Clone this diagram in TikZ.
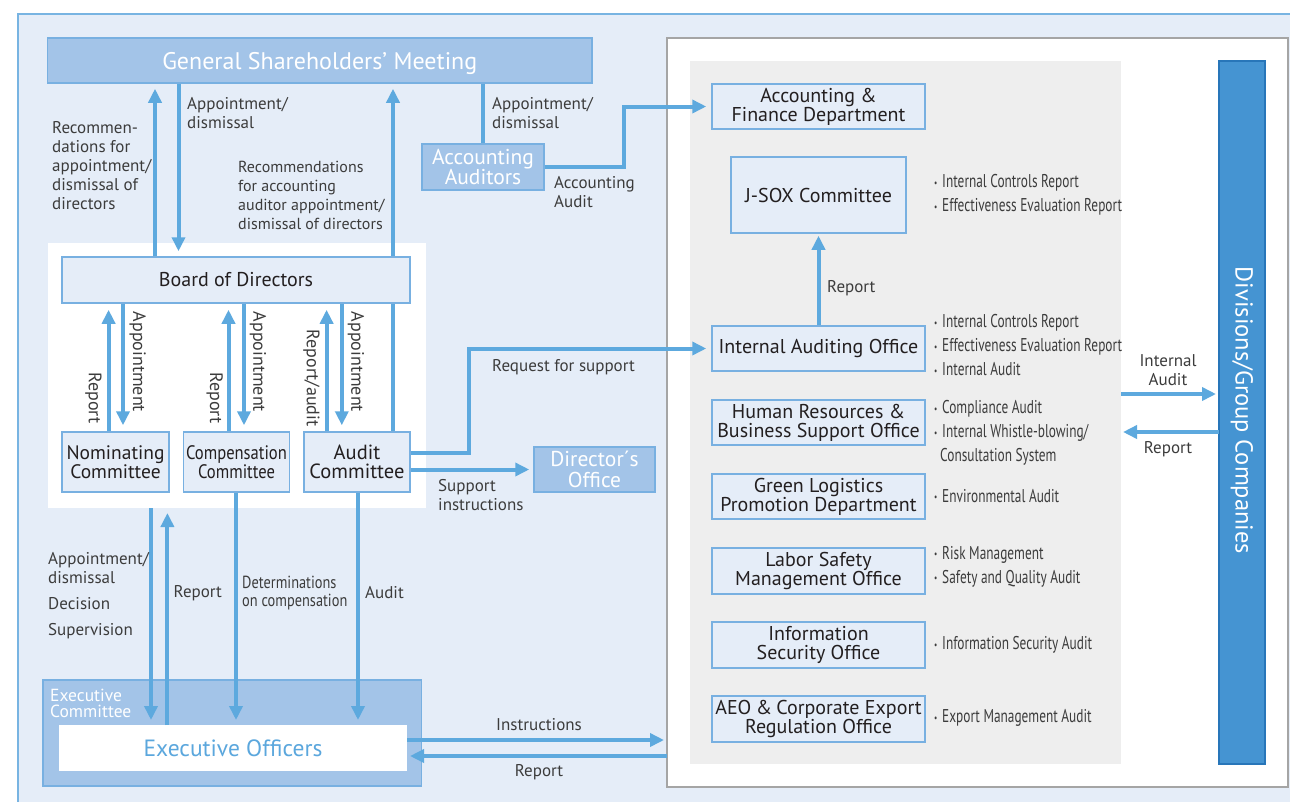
\documentclass[tikz,border=0pt]{standalone}
\usepackage{fontspec}
\setmainfont{PT Sans}
\newfontfamily\condf[FakeStretch=0.82]{PT Sans}
\newfontfamily\bulf[FakeStretch=0.72]{PT Sans}
\newfontfamily\compf[FakeStretch=0.85]{PT Sans}
\usetikzlibrary{arrows.meta,calc}
\definecolor{panelbg}{RGB}{229,237,248}
\definecolor{panelborder}{RGB}{120,180,226}
\definecolor{midblue}{RGB}{163,196,232}
\definecolor{boxborder}{RGB}{120,176,225}
\definecolor{arrblue}{RGB}{93,169,222}
\definecolor{grayp}{RGB}{238,238,238}
\definecolor{grayborder}{RGB}{165,165,165}
\definecolor{divblue}{RGB}{69,148,210}
\definecolor{divborder}{RGB}{40,118,185}
\definecolor{txt}{RGB}{35,31,32}
\definecolor{lbltxt}{RGB}{60,60,60}
\definecolor{eotxt}{RGB}{91,167,221}
\pgfdeclarelayer{back}
\pgfdeclarelayer{mid}
\pgfsetlayers{back,mid,main}
\newcommand{\bul}{\makebox[8pt][l]{\fontsize{10}{10}\selectfont\raisebox{1.5pt}{•}}}
\begin{document}
\begin{tikzpicture}[x=1pt,y=-1pt,
  arr/.style={draw=arrblue, line width=4pt, -{Triangle[length=14pt,width=13pt]}},
  ln/.style={draw=arrblue, line width=4pt},
  box/.style={draw=boxborder, line width=1.5pt, fill=panelbg, text=txt, align=center, inner sep=0pt,
    font=\fontsize{20}{19}\selectfont},
  midbox/.style={draw=boxborder, line width=1.5pt, fill=midblue, text=white, align=center, inner sep=0pt,
    font=\fontsize{21.5}{20.5}\selectfont},
  lbl/.style={text=lbltxt, align=left, inner sep=0pt, font=\fontsize{17}{19}\selectfont},
  rlbl/.style={lbl, rotate=-90, font=\fontsize{18}{19}\selectfont},
  bl/.style={text=lbltxt, align=left, inner sep=0pt, font=\bulf\fontsize{18.5}{24}\selectfont, anchor=west},
  panel/.style={inner sep=0pt, outer sep=0pt}]
\useasboundingbox (0,0) rectangle (1290,801);

\begin{pgfonlayer}{back}
\fill[panelbg] (18,14) rectangle (1300,810);
\draw[panelborder, line width=2pt] (1300,14) -- (18,14) -- (18,810);
\node[panel, fill=white, minimum width=378pt, minimum height=265pt] (wp) at (237,375.5) {};
\node[panel, fill=white, draw=grayborder, line width=1.5pt, minimum width=621pt, minimum height=749pt] (rpanel) at (977.5,412.5) {};
\node[panel, fill=grayp, minimum width=431pt, minimum height=703pt] (gpanel) at (905.5,412.5) {};
\end{pgfonlayer}

% left column
\node[midbox, minimum width=544.5pt, minimum height=45pt, font=\fontsize{24}{24}\selectfont, text depth=0pt] (gsm) at (319.75,60.5) {General Shareholders’ Meeting};
\node[box, minimum width=348pt, minimum height=46pt] (board) at (236,280) {Board of Directors};
\node[box, minimum width=107pt, minimum height=60pt, font=\fontsize{19.5}{19}\selectfont] (nom) at (115.5,462) {Nominating\\Committee};
\node[box, minimum width=106pt, minimum height=60pt, font=\compf\fontsize{19.5}{19}\selectfont] (comp) at (236.5,462) {Compensation\\Committee};
\node[box, minimum width=106pt, minimum height=60pt, font=\fontsize{20.5}{19}\selectfont] (aud) at (357,462) {Audit\\Committee};
\node[midbox, minimum width=122pt, minimum height=46pt] (accaud) at (483,167) {Accounting\\Auditors};
\node[midbox, minimum width=121pt, minimum height=45pt] (dirof) at (594.5,469.5) {Director´s\\Office};
\node[midbox, minimum width=378.5pt, minimum height=106pt] (exc) at (232.25,733) {};
\node[text=white, align=left, inner sep=0pt, anchor=west, font=\fontsize{17.5}{16}\selectfont] (exclbl) at (50,703) {Executive\\Committee};
\node[panel, fill=white, minimum width=348pt, minimum height=46pt, text=eotxt, font=\fontsize{23.5}{23.5}\selectfont] (exo) at (233,748) {Executive Officers};

% right column
\node[box, minimum width=213pt, minimum height=45pt] (acc) at (818.5,106.5) {Accounting \&\\Finance Department};
\node[box, minimum width=175pt, minimum height=76pt] (jsox) at (818.5,195) {J-SOX Committee};
\node[box, minimum width=213pt, minimum height=45pt] (iao) at (818.5,348.5) {Internal Auditing Office};
\node[box, minimum width=213pt, minimum height=45pt] (hr) at (818.5,422.5) {Human Resources \&\\Business Support Office};
\node[box, minimum width=213pt, minimum height=45pt] (green) at (818.5,496.5) {Green Logistics\\Promotion Department};
\node[box, minimum width=213pt, minimum height=46pt] (labor) at (818.5,571) {Labor Safety\\Management Office};
\node[box, minimum width=213pt, minimum height=46pt] (info) at (818.5,645) {Information\\Security Office};
\node[box, minimum width=213pt, minimum height=46pt] (aeo) at (818.5,719) {AEO\hspace{-1pt} \&\hspace{-1pt} Corporate Export\\Regulation Office};
\node[panel, fill=divblue, draw=divborder, line width=1.5pt, minimum width=46pt, minimum height=703pt] (div) at (1242,412.5) {};
\node[rotate=-90, text=white, inner sep=0pt, font=\fontsize{24.5}{24.5}\selectfont] (divlbl) at (1242,410.5) {Divisions/Group Companies};

% bullets
\node[bl] (b1) at (934,195) {\bul Internal Controls Report\\\bul Effectiveness Evaluation Report};
\node[bl] (b2) at (934,345.5) {\bul Internal Controls Report\\\bul Effectiveness Evaluation Report\\\bul Internal Audit};
\node[bl] (b3) at (934,433) {\bul Compliance Audit\\\bul Internal Whistle-blowing/\\\hspace*{6pt}Consultation System};
\node[bl] (b4) at (934,496) {\bul Environmental Audit};
\node[bl] (b5) at (934,566.5) {\bul Risk Management\\\bul Safety and Quality Audit};
\node[bl] (b6) at (934,645) {\bul Information Security Audit};
\node[bl] (b7) at (934,718) {\bul Export Management Audit};

% connectors
\begin{pgfonlayer}{mid}
\draw[arr, shorten >=5pt] (393,0 |- aud.north) -- (393,0 |- gsm.south);
\end{pgfonlayer}
\draw[arr, shorten >=5pt] (155,0 |- board.north) -- (155,0 |- gsm.south);
\draw[arr, shorten >=5pt] (178.5,0 |- gsm.south) -- (178.5,0 |- board.north);
\draw[ln] (483,0 |- gsm.south) -- (483,0 |- accaud.north);
\draw[arr, shorten >=5pt] (accaud.east) -| (624,0 |- acc.west) -- (acc.west);

\draw[arr, shorten >=6pt] (108.6,0 |- nom.north) -- (108.6,0 |- board.south);
\draw[arr, shorten >=6pt] (123,0 |- board.south) -- (123,0 |- nom.north);
\draw[arr, shorten >=6pt] (228.5,0 |- comp.north) -- (228.5,0 |- board.south);
\draw[arr, shorten >=6pt] (244,0 |- board.south) -- (244,0 |- comp.north);
\draw[arr, shorten >=6pt] (326.6,0 |- aud.north) -- (326.6,0 |- board.south);
\draw[arr, shorten >=6pt] (341.8,0 |- board.south) -- (341.8,0 |- aud.north);

\coordinate (rs) at ([yshift=9pt]aud.east);
\draw[arr, shorten >=5pt] (rs) -| (468.5,0 |- iao.west) -- (iao.west);
\draw[arr, shorten >=4pt] (aud.east |- dirof.west) -- (dirof.west);

\draw[arr, shorten >=5pt] (151,0 |- wp.south) -- (151,0 |- exo.north);
\draw[arr, shorten >=5pt] (167.4,0 |- exo.north) -- (167.4,0 |- wp.south);
\draw[arr, shorten >=5pt] (236,0 |- comp.south) -- (236,0 |- exo.north);
\draw[arr, shorten >=5pt] (358,0 |- aud.south) -- (358,0 |- exo.north);

\coordinate (i1) at ([yshift=8pt]exo.east);
\coordinate (r1) at ([yshift=-8pt]exo.east);
\draw[arr, shorten >=3pt] (i1) -- (i1 -| rpanel.west);
\draw[arr, shorten >=3pt] (r1 -| rpanel.west) -- (r1);

\draw[arr, shorten >=2pt] (iao.north) -- (jsox.south);
\coordinate (ia) at (0,394);
\coordinate (rp) at (0,432);
\draw[arr, shorten >=3pt] (ia -| gpanel.east) -- (ia -| div.west);
\draw[arr, shorten >=2pt] (rp -| div.west) -- (rp -| gpanel.east);

% labels
\node[lbl, anchor=west] (l1) at (187,113) {Appointment/\\dismissal};
\node[lbl, anchor=west] (l2) at (52,165.5) {Recommen-\\dations for\\appointment/\\dismissal of\\directors};
\node[lbl, anchor=west, font=\fontsize{16}{19}\selectfont] (l3) at (238,195) {Recommendations\\for accounting\\auditor appointment/\\dismissal of directors};
\node[lbl, anchor=west] (l4) at (492,113) {Appointment/\\dismissal};
\node[lbl, anchor=west] (l5) at (554,192.5) {Accounting\\Audit};
\node[lbl, anchor=west] (l6) at (492,367) {Request for support};
\node[lbl, anchor=west] (l7) at (438,495) {Support\\instructions};
\node[lbl, anchor=west] (l8) at (48,568.5) {Appointment/\\dismissal};
\node[lbl, anchor=west] (l9) at (48,604) {Decision};
\node[lbl, anchor=west] (l10) at (48,631) {Supervision};
\node[lbl, anchor=west] (l11) at (173.5,593) {Report};
\node[lbl, anchor=west, font=\condf\fontsize{17.5}{18.5}\selectfont] (l12) at (242,593) {Determinations\\on compensation};
\node[lbl, anchor=west] (l13) at (365,593) {Audit};
\node[lbl] (l14) at (539,725) {Instructions};
\node[lbl] (l15) at (539,772) {Report};
\node[lbl, anchor=west] (l16) at (827,288) {Report};
\node[lbl, align=center] (l17) at (1168,370.5) {Internal\\Audit};
\node[lbl] (l18) at (1168,449) {Report};
\node[rlbl] (r1l) at (93.4,398) {Report};
\node[rlbl] (r2l) at (137.6,362) {Appointment};
\node[rlbl] (r3l) at (214.6,398) {Report};
\node[rlbl] (r4l) at (258,362) {Appointment};
\node[rlbl] (r5l) at (311.5,378) {Report/audit};
\node[rlbl] (r6l) at (356,362) {Appointment};
\end{tikzpicture}
\end{document}
